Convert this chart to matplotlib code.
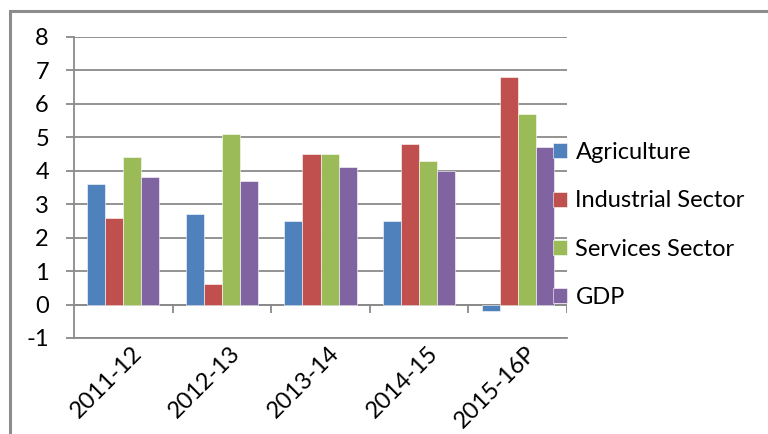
import numpy as np
import matplotlib.pyplot as plt
from matplotlib.patches import Rectangle

years = ['2011-12', '2012-13', '2013-14', '2014-15', '2015-16P']
agriculture = [3.6, 2.7, 2.5, 2.5, -0.2]
industry = [2.6, 0.6, 4.5, 4.8, 6.8]
services = [4.4, 5.1, 4.5, 4.3, 5.7]
gdp = [3.8, 3.7, 4.1, 4.0, 4.7]

series = [('Agriculture', agriculture, '#4F81BD'),
          ('Industrial Sector', industry, '#C0504D'),
          ('Services Sector', services, '#9BBB59'),
          ('GDP', gdp, '#8064A2')]

plt.rcParams['font.family'] = ['Lato', 'DejaVu Sans']
plt.rcParams['axes.unicode_minus'] = False

W, H = 768, 434
fig = plt.figure(figsize=(W / 100, H / 100), dpi=100)
ax = fig.add_axes([74 / W, 1 - 338 / H, (567 - 74) / W, (338 - 37) / H])

# outer chart frame (left and top edges visible)
fig.patches.append(Rectangle((10 / W, -0.1), 1.2, 1 - 11 / H + 0.1,
                             transform=fig.transFigure, fill=False,
                             edgecolor='#8c8c8c', linewidth=2.2, zorder=0))

x = np.arange(len(years))
bw = 0.183
for i, (name, vals, col) in enumerate(series):
    ax.bar(x + (i - 1.5) * bw, vals, width=bw, color=col, label=name,
           edgecolor='white', linewidth=0.4, zorder=3)

ax.set_xlim(-0.5, len(years) - 0.5)
ax.set_ylim(-1, 8)
ax.set_yticks(range(-1, 9))
ax.grid(axis='y', color='#8a8a8a', linewidth=1.3, zorder=0)
ax.set_axisbelow(True)

# category axis drawn through zero with boundary ticks
ax.axhline(0, color='#8a8a8a', linewidth=1.3, zorder=2)
ax.vlines(np.arange(len(years)) + 0.5, -0.25, 0, color='#8a8a8a', linewidth=1.3)

for s in ['top', 'right']:
    ax.spines[s].set_visible(False)
ax.spines['left'].set_color('#8a8a8a')
ax.spines['left'].set_linewidth(1.3)
ax.spines['bottom'].set_color('#8a8a8a')
ax.spines['bottom'].set_linewidth(1.3)

ax.tick_params(axis='y', length=6, width=1.3, color='#8a8a8a', pad=12, labelsize=17)
ax.tick_params(axis='x', length=0, pad=3, labelsize=17)
ax.set_xticks(x + 0.08)
ax.set_xticklabels(years, rotation=45, ha='right', rotation_mode='anchor')

fig.legend(loc='center left', bbox_to_anchor=(553 / W, 1 - 225 / H),
           frameon=False, fontsize=17, handlelength=0.6, handleheight=0.6,
           handletextpad=0.35, labelspacing=1.15, borderpad=0, borderaxespad=0)

fig.savefig('out.png', dpi=100)
